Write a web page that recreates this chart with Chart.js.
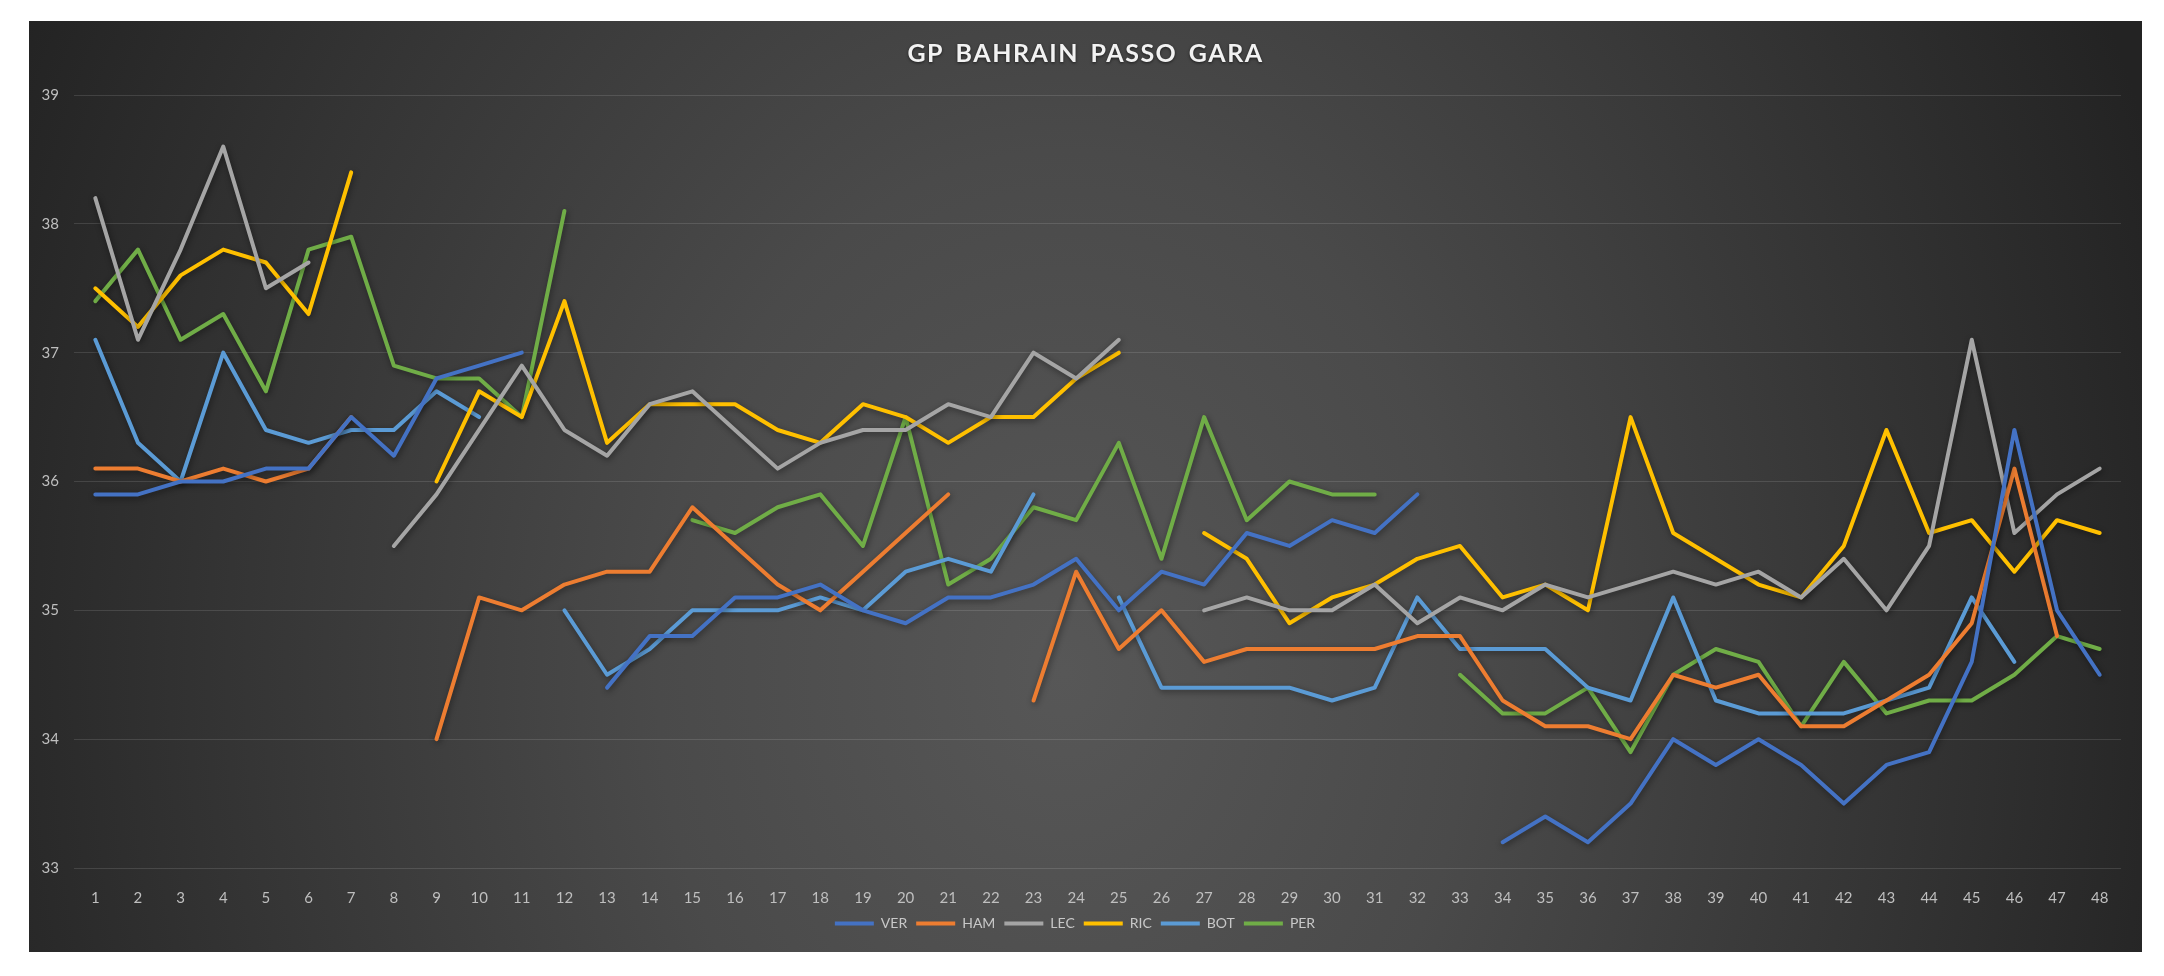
<!DOCTYPE html>
<html><head><meta charset="utf-8">
<script src="https://cdn.jsdelivr.net/npm/chart.js@4.4.1/dist/chart.umd.min.js"></script>
<style>
html,body{margin:0;padding:0;background:#ffffff;width:2164px;height:976px;overflow:hidden;}
#panel{position:absolute;left:29px;top:21px;width:2113px;height:931px;
background:radial-gradient(ellipse 55% 160% at 49% 70%, #575757 0%, #4a4a4a 35%, #343434 72%, #232323 100%);}
canvas{display:block;}
</style></head><body>
<div id="panel"><canvas id="c" width="2113" height="931"></canvas></div>
<script>
const chartTitle = "GP BAHRAIN PASSO GARA";
const laps = ["1","2","3","4","5","6","7","8","9","10","11","12","13","14","15","16","17","18","19","20","21","22","23","24","25","26","27","28","29","30","31","32","33","34","35","36","37","38","39","40","41","42","43","44","45","46","47","48"];
const yTicks = [33,34,35,36,37,38,39];

const VER = [35.9,35.9,36.0,36.0,36.1,36.1,36.5,36.2,36.8,36.9,37.0,null,34.4,34.8,34.8,35.1,35.1,35.2,35.0,34.9,35.1,35.1,35.2,35.4,35.0,35.3,35.2,35.6,35.5,35.7,35.6,35.9,null,33.2,33.4,33.2,33.5,34.0,33.8,34.0,33.8,33.5,33.8,33.9,34.6,36.4,35.0,34.5];
const HAM = [36.1,36.1,36.0,36.1,36.0,36.1,36.5,null,34.0,35.1,35.0,35.2,35.3,35.3,35.8,35.5,35.2,35.0,35.3,35.6,35.9,null,34.3,35.3,34.7,35.0,34.6,34.7,34.7,34.7,34.7,34.8,34.8,34.3,34.1,34.1,34.0,34.5,34.4,34.5,34.1,34.1,34.3,34.5,34.9,36.1,34.8,null];
const LEC = [38.2,37.1,37.8,38.6,37.5,37.7,null,35.5,35.9,36.4,36.9,36.4,36.2,36.6,36.7,36.4,36.1,36.3,36.4,36.4,36.6,36.5,37.0,36.8,37.1,null,35.0,35.1,35.0,35.0,35.2,34.9,35.1,35.0,35.2,35.1,35.2,35.3,35.2,35.3,35.1,35.4,35.0,35.5,37.1,35.6,35.9,36.1];
const RIC = [37.5,37.2,37.6,37.8,37.7,37.3,38.4,null,36.0,36.7,36.5,37.4,36.3,36.6,36.6,36.6,36.4,36.3,36.6,36.5,36.3,36.5,36.5,36.8,37.0,null,35.6,35.4,34.9,35.1,35.2,35.4,35.5,35.1,35.2,35.0,36.5,35.6,35.4,35.2,35.1,35.5,36.4,35.6,35.7,35.3,35.7,35.6];
const BOT = [37.1,36.3,36.0,37.0,36.4,36.3,36.4,36.4,36.7,36.5,null,35.0,34.5,34.7,35.0,35.0,35.0,35.1,35.0,35.3,35.4,35.3,35.9,null,35.1,34.4,34.4,34.4,34.4,34.3,34.4,35.1,34.7,34.7,34.7,34.4,34.3,35.1,34.3,34.2,34.2,34.2,34.3,34.4,35.1,34.6,null,null];
const PER = [37.4,37.8,37.1,37.3,36.7,37.8,37.9,36.9,36.8,36.8,36.5,38.1,null,null,35.7,35.6,35.8,35.9,35.5,36.5,35.2,35.4,35.8,35.7,36.3,35.4,36.5,35.7,36.0,35.9,35.9,null,34.5,34.2,34.2,34.4,33.9,34.5,34.7,34.6,34.1,34.6,34.2,34.3,34.3,34.5,34.8,34.7];

const seriesNames = ["VER","HAM","LEC","RIC","BOT","PER"];
const seriesColors = ["#4472C4","#ED7D31","#A5A5A5","#FFC000","#5B9BD5","#70AD47"];
const seriesData = [VER,HAM,LEC,RIC,BOT,PER];

const datasets = seriesNames.map((n,i)=>({
  label:n, data:seriesData[i], borderColor:seriesColors[i], backgroundColor:seriesColors[i],
  borderWidth:4, pointRadius:0, tension:0, spanGaps:false,
  borderJoinStyle:'round', borderCapStyle:'round'
}));

const shadowPlugin = {
  id:'lineShadow',
  beforeDatasetsDraw(c){const x=c.ctx;x.save();x.shadowColor='rgba(0,0,0,0.45)';x.shadowBlur=6;x.shadowOffsetX=1;x.shadowOffsetY=2;},
  afterDatasetsDraw(c){c.ctx.restore();}
};
const titlePlugin = {
  id:'customTitle',
  afterDraw(c){
    const x=c.ctx; x.save();
    x.font='bold 25px Lato';
    try{x.letterSpacing='1.5px';x.wordSpacing='4px';}catch(e){}
    x.fillStyle='#f2f2f2'; x.textAlign='center'; x.textBaseline='middle';
    x.shadowColor='rgba(0,0,0,0.6)'; x.shadowBlur=3; x.shadowOffsetY=1;
    x.fillText(chartTitle, c.width/2, 33);
    x.restore();
  }
};

const tickFont = {family:'Lato', size:15};
new Chart(document.getElementById('c'), {
  type:'line',
  data:{labels:laps, datasets},
  options:{
    responsive:false, animation:false,
    layout:{padding:{top:74,right:21,bottom:11.5,left:0}},
    scales:{
      x:{offset:true, grid:{display:false}, border:{display:false},
         ticks:{color:'#bfbfbf', font:tickFont, padding:13, maxRotation:0, autoSkip:false},
         afterFit(s){s.height=39.5;}},
      y:{min:33, max:39, afterBuildTicks(s){s.ticks=yTicks.map(v=>({value:v}));},
         ticks:{color:'#bfbfbf', font:tickFont, padding:15},
         grid:{color:'rgba(255,255,255,0.12)', lineWidth:1, drawTicks:false},
         border:{display:false},
         afterFit(s){s.width=45;}}
    },
    plugins:{
      legend:{position:'bottom', labels:{boxWidth:39, boxHeight:4, padding:9, color:'#c8c8c8', font:{family:'Lato', size:14},
        generateLabels(chart){const it=Chart.defaults.plugins.legend.labels.generateLabels(chart); it.forEach(i=>{i.lineWidth=0;i.fillStyle=i.strokeStyle;}); return it;}}},
      title:{display:false}, tooltip:{enabled:false}
    }
  },
  plugins:[shadowPlugin,titlePlugin]
});
</script>
</body></html>
